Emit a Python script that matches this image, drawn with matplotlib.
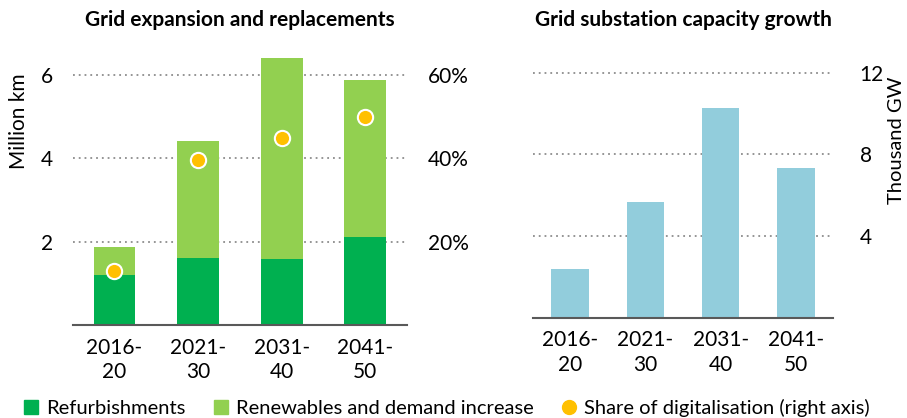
import matplotlib.pyplot as plt
from matplotlib.lines import Line2D
from matplotlib.patches import Patch
import numpy as np

plt.rcParams['font.family'] = ['Lato', 'DejaVu Sans']

periods = ['2016-\n20', '2021-\n30', '2031-\n40', '2041-\n50']
refurb = [1.2, 1.61, 1.59, 2.11]          # million km
renewables = [0.68, 2.81, 4.83, 3.77]     # million km, stacked on refurbishments
digital_share = [13, 39.7, 45, 50]        # % (right axis)
substation = [2.37, 5.67, 10.3, 7.32]     # thousand GW

c_refurb = '#00B050'
c_renew = '#92D050'
c_dot = '#FFC000'
c_sub = '#92CDDC'
c_grid = '#8C8C8C'
c_axis = '#595959'

fig = plt.figure(figsize=(9.07, 4.18), dpi=100)
W, H = 907, 418

def px_axes(x0, x1, y_bottom, y_top):
    return fig.add_axes([x0 / W, 1 - y_bottom / H, (x1 - x0) / W, (y_bottom - y_top) / H])

x = np.arange(len(periods))

# left panel: stacked grid length with digitalisation share
ax1 = px_axes(72.7, 407, 325, 50)
ax1.bar(x, refurb, width=0.5, color=c_refurb, zorder=2)
ax1.bar(x, renewables, width=0.5, bottom=refurb, color=c_renew, zorder=2)
ax1.set_xlim(-0.5, 3.5)
ax1.set_ylim(0, 6.6)
ax1.set_yticks([2, 4, 6])
ax1.yaxis.grid(True, linestyle=(0, (1, 2.2)), color=c_grid, linewidth=1.3, zorder=0)
ax1.set_axisbelow(True)

ax1b = ax1.twinx()
ax1b.plot(x, digital_share, linestyle='none', marker='o', markersize=11,
          markerfacecolor=c_dot, markeredgecolor='white', markeredgewidth=1.5, zorder=3)
ax1b.set_ylim(0, 66)
ax1b.set_yticks([20, 40, 60])
ax1b.set_yticklabels(['20%', '40%', '60%'])

# right panel: substation capacity
ax2 = px_axes(532.7, 833.3, 317.7, 50)
ax2.bar(x, substation, width=0.5, color=c_sub, zorder=2)
ax2.set_xlim(-0.5, 3.5)
ax2.set_ylim(0, 13.12)
ax2.set_yticks([4, 8, 12])
ax2.yaxis.grid(True, linestyle=(0, (1, 2.2)), color=c_grid, linewidth=1.3, zorder=0)
ax2.set_axisbelow(True)
ax2.yaxis.tick_right()

for ax in (ax1, ax1b, ax2):
    for s in ax.spines.values():
        s.set_visible(False)
    ax.tick_params(length=0, labelsize=15)

for ax in (ax1, ax2):
    ax.spines['bottom'].set_visible(True)
    ax.spines['bottom'].set_color(c_axis)
    ax.spines['bottom'].set_linewidth(1.5)
    ax.set_xticks(x)
    ax.set_xticklabels(periods, linespacing=1.3)
    ax.tick_params(axis='x', pad=9)

ax1.tick_params(axis='y', pad=14)
ax1b.tick_params(axis='y', pad=15)
ax2.tick_params(axis='y', pad=19)

fig.text(19 / W, 1 - 121 / H, 'Million km', rotation=90, ha='center', va='center', fontsize=15)
fig.text(896 / W, 1 - 140 / H, 'Thousand GW', rotation=90, ha='center', va='center', fontsize=14.5)

fig.text(240 / W, 1 - 20 / H, 'Grid expansion and replacements', ha='center', va='center',
         fontsize=15, fontweight='bold')
fig.text(683 / W, 1 - 20 / H, 'Grid substation capacity growth', ha='center', va='center',
         fontsize=15, fontweight='bold')

handles = [
    Patch(color=c_refurb, label='Refurbishments'),
    Patch(color=c_renew, label='Renewables and demand increase'),
    Line2D([], [], linestyle='none', marker='o', markersize=10, markerfacecolor=c_dot,
           markeredgecolor=c_dot, label='Share of digitalisation (right axis)'),
]
fig.legend(handles=handles, loc='center', bbox_to_anchor=(447 / W, 1 - 408 / H), ncol=3,
           frameon=False, fontsize=14.5, handlelength=0.7, handleheight=0.7,
           handletextpad=0.4, columnspacing=1.4, borderpad=0)

fig.savefig('out.png', dpi=100)
